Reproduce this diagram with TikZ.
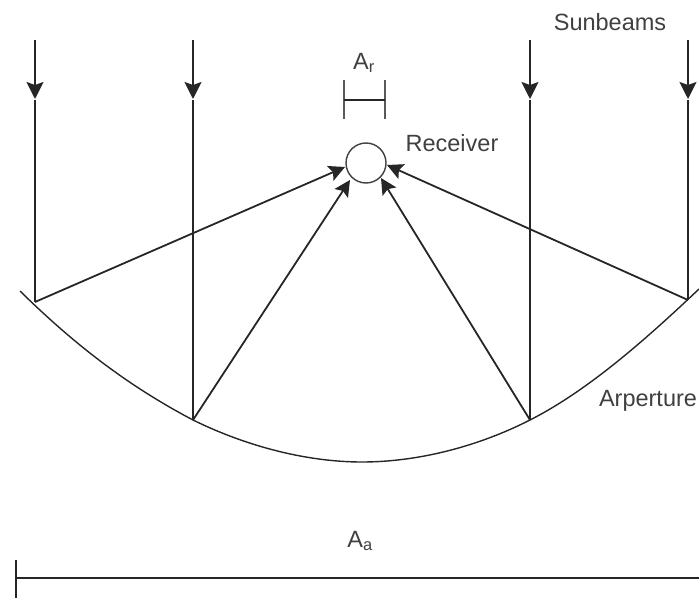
\documentclass[tikz,border=0pt]{standalone}
\usepackage{fontspec}
\setmainfont{Liberation Sans}
\usetikzlibrary{arrows.meta}
\begin{document}
\begin{tikzpicture}[x=1pt,y=-1pt,
  line/.style={draw=black!85,line width=1.8pt},
  beam/.style={line,-{Stealth[length=17pt,width=17pt,inset=3pt]}},
  ray/.style={line,-{Stealth[length=16pt,width=16pt,inset=3pt]}},
  bar/.style={draw=black!65,line width=1.9pt},
  lab/.style={text=black!75,font=\fontsize{23.5}{25}\selectfont,inner sep=0pt}]
\useasboundingbox (0,0) rectangle (699,599);
\foreach \n/\x/\yy in {a/35/302,b/193/420,c/530/420,d/688/300}{
  \coordinate (t\n) at (\x,40);
  \coordinate (m\n) at (\x,99);
  \coordinate (u\n) at (\x,100);
  \coordinate (f\n) at (\x,\yy);
  \draw[beam] (t\n) -- (m\n);
  \draw[line] (u\n) -- (f\n);
}
\node[circle,draw=black!75,line width=1.4pt,minimum size=40pt,inner sep=0pt] (rc) at (366,163) {};
\coordinate (ra) at (345,167);
\coordinate (rb) at (350,180);
\coordinate (rc2) at (381,178);
\coordinate (rd) at (387,165);
\draw[ray] (fa) -- (ra);
\draw[ray] (fb) -- (rb);
\draw[ray] (fc) -- (rc2);
\draw[ray] (fd) -- (rd);
\coordinate (e1) at (20,291);
\coordinate (v) at (362,462);
\coordinate (e2) at (699,289);
\draw[line,line width=1.4pt] (e1) .. controls (85,355) and (140,392) .. (fb)
  .. controls (250,448) and (310,462) .. (v)
  .. controls (415,462) and (475,448) .. (fc)
  .. controls (585,392) and (640,345) .. (e2);
\coordinate (arl) at (344,100);
\coordinate (arr) at (385,100);
\coordinate (arl1) at (344,80);
\coordinate (arl2) at (344,119);
\coordinate (arr1) at (385,80);
\coordinate (arr2) at (385,119);
\draw[bar] (arl1) -- (arl2);
\draw[bar] (arr1) -- (arr2);
\draw[line] (arl) -- (arr);
\coordinate (al) at (16,578);
\coordinate (ar) at (699,578);
\coordinate (al1) at (16,560);
\coordinate (al2) at (16,598);
\draw[line] (al) -- (ar);
\draw[line] (al1) -- (al2);
\node[lab] (arlab) at (364,63) {A\textsubscript{r}};
\node[lab] (recv) at (452,143) {Receiver};
\node[lab] (sun) at (610,22) {Sunbeams};
\node[lab] (ap) at (648,401) {Arperture};
\node[lab] (aa) at (360,541) {A\textsubscript{a}};
\end{tikzpicture}
\end{document}
